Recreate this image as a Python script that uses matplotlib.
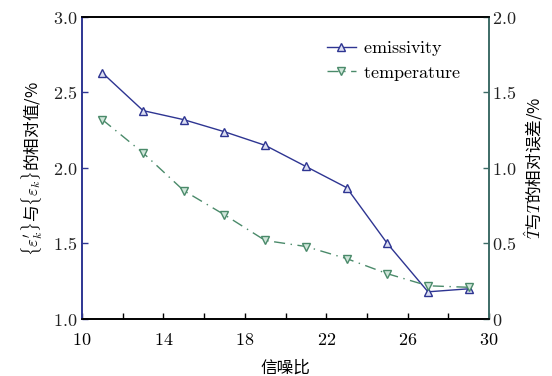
import matplotlib
matplotlib.use("Agg")
import matplotlib.pyplot as plt
from matplotlib.ticker import FuncFormatter

plt.rcParams['font.family'] = ['Noto Sans CJK SC', 'DejaVu Sans']
plt.rcParams['mathtext.fontset'] = 'cm'
plt.rcParams['axes.unicode_minus'] = False

snr = [11, 13, 15, 17, 19, 21, 23, 25, 27, 29]
emissivity = [2.63, 2.38, 2.32, 2.24, 2.15, 2.01, 1.87, 1.50, 1.18, 1.20]
temperature = [1.32, 1.10, 0.85, 0.69, 0.52, 0.48, 0.40, 0.30, 0.22, 0.21]
x_ticks = [10, 14, 18, 22, 26, 30]
left_ticks = [1.0, 1.5, 2.0, 2.5, 3.0]
right_ticks = [0, 0.5, 1.0, 1.5, 2.0]

blue = '#2e3592'
green = '#4a8a6a'
teal = '#3d6b66'

fig = plt.figure(figsize=(5.52, 3.76), dpi=100)
ax = fig.add_axes([0.1486, 0.1516, 0.7374, 0.8032])
ax2 = ax.twinx()

l1, = ax.plot(snr, emissivity, '-', color=blue, lw=1.0, marker='^', ms=5.5,
              mfc='#dcdff2', mec=blue, mew=1.0, label=r'$\mathrm{emissivity}$')
l2, = ax2.plot(snr, temperature, color=green, lw=1.0, dashes=[8, 4, 1, 4],
               marker='v', ms=5.5, mfc='#d0e6da', mec=green, mew=1.0,
               label=r'$\mathrm{temperature}$')

ax.set_xlim(10, 30)
ax.set_ylim(1.0, 3.0)
ax2.set_ylim(0, 2.0)

ax.set_xticks(x_ticks)
ax.set_xticks(range(10, 31, 2), minor=True)
ax.set_yticks(left_ticks)
ax2.set_yticks(right_ticks)

ax.xaxis.set_major_formatter(FuncFormatter(lambda v, p: r'$%d$' % v))
ax.yaxis.set_major_formatter(FuncFormatter(lambda v, p: r'$%.1f$' % v))
ax2.yaxis.set_major_formatter(FuncFormatter(lambda v, p: r'$0$' if v == 0 else r'$%.1f$' % v))

ax.tick_params(axis='x', which='both', direction='in', length=4, width=1, labelsize=13, pad=9)
ax.tick_params(axis='y', direction='in', length=4, width=1, colors=blue, labelcolor='#222222', labelsize=13)
ax2.tick_params(axis='y', direction='in', length=4, width=1, colors=teal, labelcolor='#222222', labelsize=13, pad=2)

for a in (ax, ax2):
    a.spines['left'].set_color(blue)
    a.spines['right'].set_color(teal)
    a.spines['left'].set_linewidth(1.2)
    a.spines['right'].set_linewidth(1.2)
    a.spines['bottom'].set_linewidth(1.2)
    a.spines['top'].set_linewidth(1.2)

ax.set_xlabel('信噪比', fontsize=12)
ax.xaxis.set_label_coords(0.5, -0.135)
ax.set_ylabel(r'$\{\varepsilon_k^{\prime}\}$与$\{\varepsilon_k\}$的相对值/%', fontsize=12)
ax.yaxis.set_label_coords(-0.092, 0.5)
ax2.set_ylabel(r'$\hat{T}$与$T$的相对误差/%', fontsize=12)
ax2.yaxis.set_label_coords(1.08, 0.5)

leg = ax.legend([l1, l2], [l1.get_label(), l2.get_label()], loc='upper right',
                bbox_to_anchor=(0.97, 0.98), frameon=False, fontsize=13,
                handlelength=1.6, handletextpad=0.4, labelspacing=0.3)

fig.savefig('out.png', dpi=100)
